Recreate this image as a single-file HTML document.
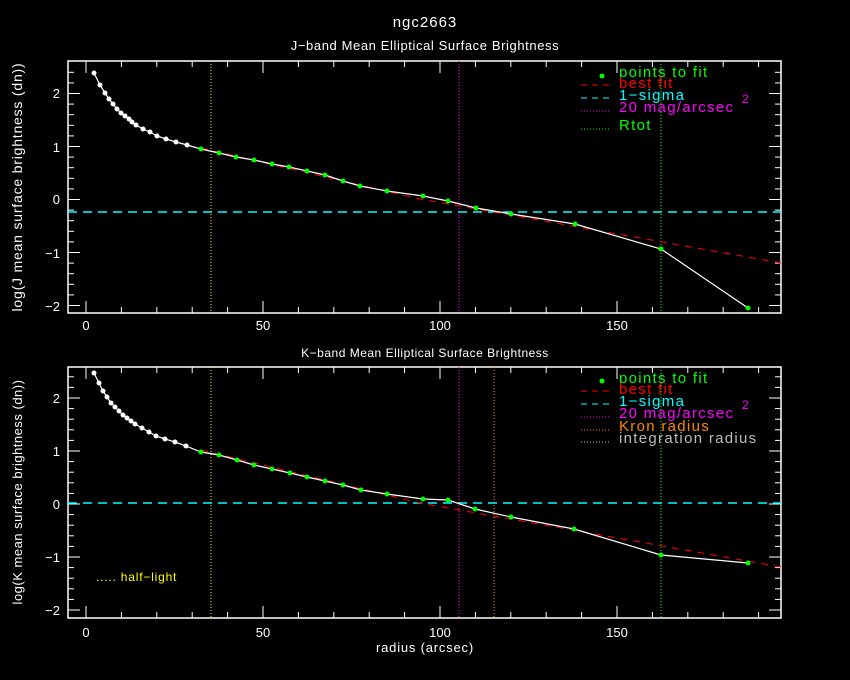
<!DOCTYPE html>
<html><head><style>
html,body{margin:0;padding:0;background:#000;}
svg{display:block;font-family:"Liberation Sans",sans-serif;}
.lg{font-size:15px;letter-spacing:1.3px;}
</style></head><body>
<svg id="s" width="850" height="680" xmlns="http://www.w3.org/2000/svg">
<rect width="850" height="680" fill="#000"/>
<text x="425" y="27" fill="#fff" font-size="15" text-anchor="middle" letter-spacing="1">ngc2663</text>
<text x="425" y="50" fill="#fff" font-size="13" text-anchor="middle" letter-spacing="0.6">J−band Mean Elliptical Surface Brightness</text>
<text x="425" y="357" fill="#fff" font-size="12" text-anchor="middle" letter-spacing="0.5">K−band Mean Elliptical Surface Brightness</text>
<text x="425" y="652" fill="#fff" font-size="13" text-anchor="middle" letter-spacing="0.8">radius (arcsec)</text>
<text transform="translate(22,187) rotate(-90)" fill="#fff" font-size="14" text-anchor="middle" letter-spacing="0.8">log(J mean surface brightness (dn))</text>
<text transform="translate(22,492) rotate(-90)" fill="#fff" font-size="13" text-anchor="middle" letter-spacing="0.5">log(K mean surface brightness (dn))</text>
<g fill="#fff" font-size="13" text-anchor="end">
<text x="60" y="98">2</text><text x="60" y="152">1</text><text x="60" y="204">0</text><text x="60" y="258">−1</text><text x="60" y="311">−2</text>
<text x="60" y="403">2</text><text x="60" y="456">1</text><text x="60" y="509">0</text><text x="60" y="562">−1</text><text x="60" y="615">−2</text>
</g>
<g fill="#fff" font-size="13" text-anchor="middle">
<text x="86" y="330">0</text><text x="263" y="330">50</text><text x="440" y="330">100</text><text x="617" y="330">150</text>
<text x="86" y="637">0</text><text x="263" y="637">50</text><text x="440" y="637">100</text><text x="617" y="637">150</text>
</g>
<g id="g"></g>
<g>
<circle cx="602" cy="76" r="2.5" fill="#0f0"/>
<text class="lg" x="619" y="77" fill="#0f0">points to fit</text>
<line x1="581" y1="85" x2="611" y2="85" stroke="#f00" stroke-dasharray="6,5"/>
<text class="lg" x="619" y="88" fill="#f00">best fit</text>
<line x1="581" y1="98" x2="611" y2="98" stroke="#0ff" stroke-dasharray="6,5"/>
<text class="lg" x="619" y="100" fill="#0ff">1−sigma</text>
<line x1="581" y1="111" x2="611" y2="111" stroke="#f0f" stroke-dasharray="1,2"/>
<text class="lg" x="619" y="112" fill="#f0f">20 mag/arcsec</text><text x="742" y="103" fill="#f0f" font-size="12">2</text>
<line x1="581" y1="129" x2="611" y2="129" stroke="#0f0" stroke-dasharray="1,2"/>
<text class="lg" x="619" y="130" fill="#0f0">Rtot</text>

<circle cx="602" cy="381" r="2.5" fill="#0f0"/>
<text class="lg" x="619" y="383" fill="#0f0">points to fit</text>
<line x1="581" y1="391" x2="611" y2="391" stroke="#f00" stroke-dasharray="6,5"/>
<text class="lg" x="619" y="394" fill="#f00">best fit</text>
<line x1="581" y1="404" x2="611" y2="404" stroke="#0ff" stroke-dasharray="6,5"/>
<text class="lg" x="619" y="406" fill="#0ff">1−sigma</text>
<line x1="581" y1="417" x2="611" y2="417" stroke="#f0f" stroke-dasharray="1,2"/>
<text class="lg" x="619" y="418" fill="#f0f">20 mag/arcsec</text><text x="742" y="409" fill="#f0f" font-size="12">2</text>
<line x1="581" y1="430" x2="611" y2="430" stroke="#f80" stroke-dasharray="1,2"/>
<text class="lg" x="619" y="431" fill="#f80">Kron radius</text>
<line x1="581" y1="442" x2="611" y2="442" stroke="#bbb" stroke-dasharray="1,2"/>
<text class="lg" x="619" y="443" fill="#bbb">integration radius</text>
<text x="96" y="581" fill="#ff0" font-size="12" letter-spacing="0.8">..... half−light</text>
</g>
</svg>
<script>
var g=document.getElementById('g'),NS='http://www.w3.org/2000/svg';
function el(t,a){var e=document.createElementNS(NS,t);for(var k in a)e.setAttribute(k,a[k]);g.appendChild(e);return e;}
function panel(top,bot,y0){
 el('rect',{x:68,y:top,width:713,height:bot-top,fill:'none',stroke:'#fff','stroke-width':1.5});
 for(var v=0;v<=190;v+=10){var x=86+v*3.54,L=(v%50==0)?12:6;
  el('line',{x1:x,y1:bot,x2:x,y2:bot-L,stroke:'#fff'});el('line',{x1:x,y1:top,x2:x,y2:top+L,stroke:'#fff'});}
 for(var i=-12;i<=12;i++){var y=y0-i*0.2*53;if(y<top||y>bot)continue;var L=(i%5==0)?12:6;
  el('line',{x1:68,y1:y,x2:68+L,y2:y,stroke:'#fff'});el('line',{x1:781,y1:y,x2:781-L,y2:y,stroke:'#fff'});}
}
panel(61,313,199.5);panel(367,618,504);
function vl(x,t,b,c){el('line',{x1:x,y1:t,x2:x,y2:b,stroke:c,'stroke-dasharray':'1,2'});}
vl(211,61,313,'#ff0');vl(459,61,313,'#f0f');vl(661,61,313,'#0f0');
vl(211,367,618,'#ff0');vl(459,367,618,'#f0f');vl(494,367,618,'#f80');vl(661,367,618,'#0f0');
el('line',{x1:68,y1:212,x2:781,y2:212,stroke:'#0ff','stroke-dasharray':'9,6','stroke-width':1.5});
el('line',{x1:68,y1:503,x2:781,y2:503,stroke:'#0ff','stroke-dasharray':'9,6','stroke-width':1.5});
el('polyline',{points:'201,148 420,199 781,263',fill:'none',stroke:'#f00','stroke-dasharray':'7,6'});
el('polyline',{points:'201,450 420,503 781,567',fill:'none',stroke:'#f00','stroke-dasharray':'7,6'});
var wj=[[94,73],[100,85],[105,93],[109,99],[113,104],[117,109],[121,113],[125,116],[129,119],[132,122],[136,125],[143,129],[150,132],[157,136],[166,139],[176,142],[187,145]];
var gj=[[201,149],[219,153],[236,157],[254,160],[272,164],[289,167],[307,171],[325,175],[343,181],[360,186],[387,191],[423,196],[448,201],[476,208],[511,214],[575,224],[661,249],[748,308]];
var wk=[[94,373],[99,383],[103,391],[107,397],[111,403],[115,407],[119,411],[123,415],[127,418],[131,421],[135,424],[142,428],[149,432],[156,436],[165,439],[175,442],[186,446]];
var gk=[[201,452],[219,455],[237,460],[254,465],[272,469],[290,473],[307,477],[325,481],[343,485],[361,490],[387,494],[423,499],[448,500],[475,509],[511,517],[574,529],[661,555],[748,563]];
function series(w,gp){var all=w.concat(gp);
 el('polyline',{points:all.map(function(p){return p.join(',')}).join(' '),fill:'none',stroke:'#fff','stroke-width':1.2});
 w.forEach(function(p){el('circle',{cx:p[0],cy:p[1],r:2.5,fill:'#fff'})});
 gp.forEach(function(p){el('circle',{cx:p[0],cy:p[1],r:2.5,fill:'#0f0'})});}
series(wj,gj);series(wk,gk);
</script>
</body></html>
